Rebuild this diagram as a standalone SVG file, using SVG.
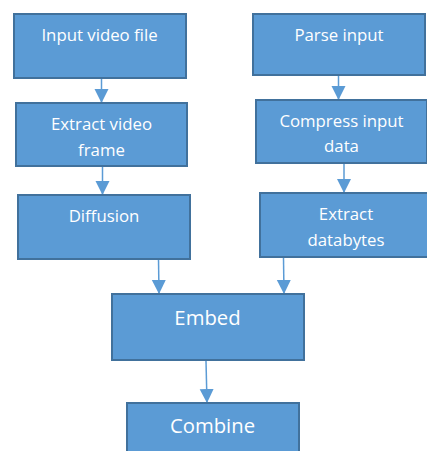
<svg xmlns="http://www.w3.org/2000/svg" width="427" height="451" viewBox="0 0 427 451">
<style>
.box{fill:#5B9BD5;stroke:#41719C;stroke-width:2}
.t{font-family:"Open Sans","Liberation Sans",sans-serif;font-size:16.8px;fill:#fff;text-anchor:middle}
.tb{font-family:"Open Sans","Liberation Sans",sans-serif;font-size:20.3px;fill:#fff;text-anchor:middle}
.c{stroke:#5B9BD5;stroke-width:1.5;fill:none;marker-end:url(#ah)}
</style>
<defs>
<marker id="ah" markerUnits="userSpaceOnUse" markerWidth="14" markerHeight="16" refX="14" refY="7" orient="auto">
<path d="M0,0 L14,7 L0,14 Z" fill="#5B9BD5"/>
</marker>
</defs>
<rect width="427" height="451" fill="#fff"/>
<g id="connectors">
<line class="c" x1="101.5" y1="79" x2="101.5" y2="103"/>
<line class="c" x1="102.5" y1="166" x2="102.5" y2="195"/>
<line class="c" x1="338.5" y1="75" x2="338.5" y2="100"/>
<line class="c" x1="344" y1="163" x2="344" y2="193"/>
<line class="c" x1="158.5" y1="259" x2="159" y2="294"/>
<line class="c" x1="283.5" y1="258" x2="284" y2="294"/>
<line class="c" x1="206" y1="361" x2="207" y2="403"/>
</g>
<g id="input-video-file"><rect class="box" x="14" y="14" width="172" height="64"/><text class="t" x="99.5" y="41">Input video file</text></g>
<g id="extract-video-frame"><rect class="box" x="16" y="103" width="171" height="63"/><text class="t" x="101.5" y="130">Extract video</text><text class="t" x="101.5" y="155.5">frame</text></g>
<g id="diffusion"><rect class="box" x="18" y="195" width="172" height="64"/><text class="t" x="104" y="221.5">Diffusion</text></g>
<g id="parse-input"><rect class="box" x="253" y="14" width="172" height="61"/><text class="t" x="339" y="41">Parse input</text></g>
<g id="compress-input-data"><rect class="box" x="256" y="100" width="171" height="63"/><text class="t" x="341.5" y="126.5">Compress input</text><text class="t" x="341.5" y="151.5">data</text></g>
<g id="extract-databytes"><rect class="box" x="260" y="193" width="170" height="64"/><text class="t" x="346" y="220">Extract</text><text class="t" x="346" y="245.5">databytes</text></g>
<g id="embed"><rect class="box" x="112" y="294" width="192" height="66"/><text class="tb" x="207.5" y="325">Embed</text></g>
<g id="combine"><rect class="box" x="127" y="403" width="172" height="60"/><text class="tb" x="212.5" y="432.5">Combine</text></g>
</svg>
